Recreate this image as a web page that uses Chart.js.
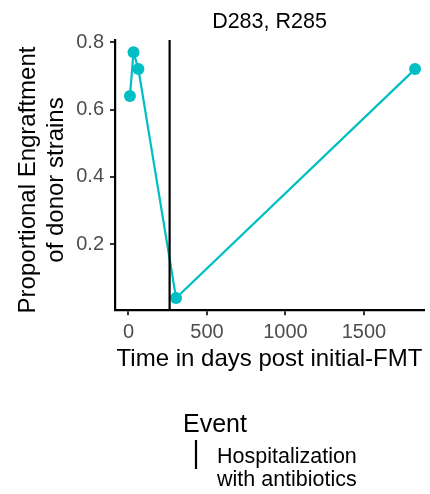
<!DOCTYPE html>
<html>
<head>
<meta charset="utf-8">
<script src="https://cdn.jsdelivr.net/npm/chart.js@4"></script>
<style>
  html, body { margin: 0; padding: 0; background: #fff; }
  canvas { display: block; }
</style>
</head>
<body>
<canvas id="myChart" width="430" height="494"></canvas>
<script>
const panelTitle = 'D283, R285';
const xTitle = 'Time in days post initial-FMT';
const yTitle = ['Proportional Engraftment', 'of donor strains'];
const legendTitle = 'Event';
const legendLabel = ['Hospitalization', 'with antibiotics'];

const days = [9, 32, 63, 303, 1826];
const engraftment = [0.64, 0.77, 0.72, 0.04, 0.72];
const eventDays = [262];

const xTicks = [0, 500, 1000, 1500];
const yTicks = [0.2, 0.4, 0.6, 0.8];

const xRange = [-86, 1883];
const yRange = [0.0035, 0.8065];

const teal = '#00BFC4';
const font = "'Liberation Sans', Arial, sans-serif";

const points = days.map((d, i) => ({ x: d, y: engraftment[i] }));
const eventSets = eventDays.map(d => ({
    label: legendLabel.join(' '),
    data: [{ x: d, y: yRange[0] }, { x: d, y: yRange[1] }],
    showLine: true,
    borderColor: '#000',
    borderWidth: 2.2,
    pointRadius: 0,
    order: 0
}));

// titles and the legend, drawn like ggplot places them
const textPlugin = {
    id: 'texts',
    afterDraw(chart) {
        const ctx = chart.ctx;
        const area = chart.chartArea;
        ctx.save();
        ctx.fillStyle = '#000';
        ctx.textBaseline = 'alphabetic';

        ctx.textAlign = 'center';
        ctx.font = '21.5px ' + font;
        ctx.fillText(panelTitle, (area.left + area.right) / 2, 28);

        ctx.font = '24px ' + font;
        ctx.fillText(xTitle, (area.left + area.right) / 2, 366);

        ctx.save();
        ctx.translate(0, 180);
        ctx.rotate(-Math.PI / 2);
        ctx.fillText(yTitle[0], 0, 35);
        ctx.fillText(yTitle[1], 0, 63);
        ctx.restore();

        ctx.textAlign = 'left';
        ctx.font = '25px ' + font;
        ctx.fillText(legendTitle, 183, 431.5);

        ctx.strokeStyle = '#000';
        ctx.lineWidth = 2.2;
        ctx.beginPath();
        ctx.moveTo(196, 440);
        ctx.lineTo(196, 469);
        ctx.stroke();

        ctx.font = '21.5px ' + font;
        ctx.fillText(legendLabel[0], 217, 463);
        ctx.fillText(legendLabel[1], 217, 486);
        ctx.restore();
    }
};

const config = {
    type: 'scatter',
    data: {
        datasets: [
            ...eventSets,
            {
                label: 'Engraftment',
                data: points,
                showLine: true,
                borderColor: teal,
                backgroundColor: teal,
                borderWidth: 2.2,
                pointRadius: 6,
                pointHoverRadius: 6,
                pointBorderWidth: 0,
                order: 1
            }
        ]
    },
    options: {
        responsive: false,
        animation: false,
        layout: { padding: { top: 40, right: 0, bottom: 0, left: 0 } },
        plugins: {
            legend: { display: false },
            title: { display: false },
            tooltip: { enabled: false }
        },
        scales: {
            x: {
                type: 'linear',
                min: xRange[0],
                max: xRange[1],
                afterBuildTicks: s => { s.ticks = xTicks.map(v => ({ value: v })); },
                afterFit: s => { s.height = 494 - 310.3; },
                border: { display: true, color: '#000', width: 2.2 },
                grid: { drawOnChartArea: false, drawTicks: true, tickLength: 5, color: '#333', lineWidth: 2 },
                ticks: {
                    color: '#4D4D4D',
                    font: { family: font, size: 20 },
                    padding: 5,
                    maxRotation: 0,
                    callback: v => String(v)
                }
            },
            y: {
                min: yRange[0],
                max: yRange[1],
                afterBuildTicks: s => { s.ticks = yTicks.map(v => ({ value: v })); },
                afterFit: s => { s.width = 115; },
                border: { display: true, color: '#000', width: 2.2 },
                grid: { drawOnChartArea: false, drawTicks: true, tickLength: 5, color: '#333', lineWidth: 2 },
                ticks: {
                    color: '#4D4D4D',
                    font: { family: font, size: 20 },
                    padding: 6,
                    callback: v => v.toFixed(1)
                }
            }
        }
    },
    plugins: [textPlugin]
};

var myChart = new Chart(document.getElementById('myChart'), config);
</script>
</body>
</html>
